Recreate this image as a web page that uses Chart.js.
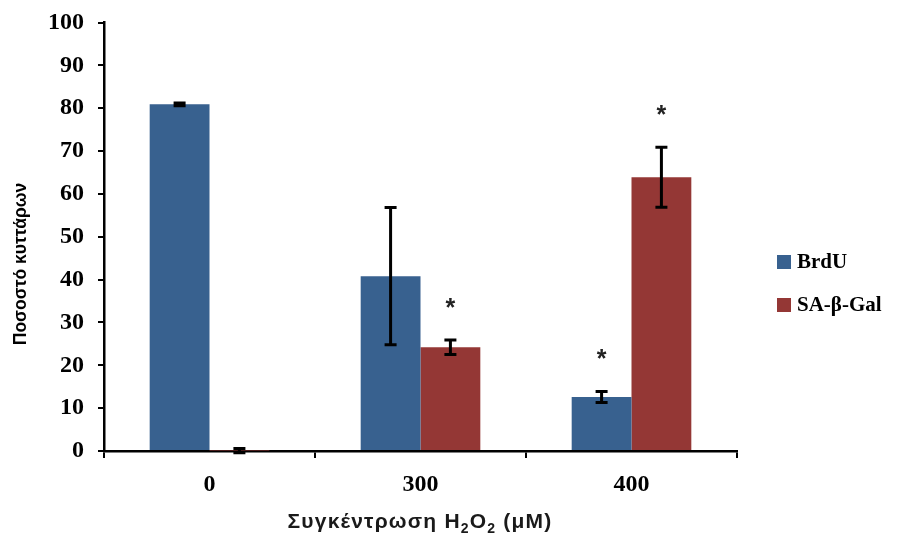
<!DOCTYPE html>
<html>
<head>
<meta charset="utf-8">
<script src="https://cdn.jsdelivr.net/npm/chart.js@4"></script>
<style>
  html, body { margin: 0; padding: 0; background: #fff; }
  #wrap { width: 907px; height: 537px; position: relative; }
</style>
</head>
<body>
<div id="wrap"><canvas id="chart"></canvas></div>
<script>
// concentrations of H2O2 (μM)
const categories = ["0", "300", "400"];
const seriesNames = ["BrdU", "SA-β-Gal"];

// percentage of cells, mean and error
const brduValues = [80.9, 40.8, 12.6];
const brduErrors = [0.3, 16.0, 1.3];
const galValues = [0.1, 24.2, 63.9];
const galErrors = [0.5, 1.7, 7.0];

// significance stars per bar
const brduStars = [false, false, true];
const galStars = [false, true, true];

const yTicks = [0, 10, 20, 30, 40, 50, 60, 70, 80, 90, 100];

const blue = "#38618f";
const red = "#943735";

const serif = "'Liberation Serif', 'Times New Roman', serif";
const sans = "'Liberation Sans', Arial, sans-serif";

// error bars + asterisks on top of the bars
const errorBars = {
    id: "errorBars",
    afterDatasetsDraw(chart) {
        const ctx = chart.ctx;
        const y = chart.scales.y;
        chart.data.datasets.forEach((ds, di) => {
            const meta = chart.getDatasetMeta(di);
            meta.data.forEach((bar, i) => {
                const v = ds.data[i];
                const e = ds.errors[i];
                const top = y.getPixelForValue(v + e);
                const bot = y.getPixelForValue(v - e);
                ctx.save();
                ctx.strokeStyle = "#000";
                ctx.lineWidth = 3;
                ctx.beginPath();
                ctx.moveTo(bar.x, top);
                ctx.lineTo(bar.x, bot);
                ctx.moveTo(bar.x - 6, top);
                ctx.lineTo(bar.x + 6, top);
                ctx.moveTo(bar.x - 6, bot);
                ctx.lineTo(bar.x + 6, bot);
                ctx.stroke();
                if (ds.stars[i]) {
                    ctx.fillStyle = "#222";
                    ctx.font = "bold 25px " + sans;
                    ctx.textAlign = "center";
                    ctx.textBaseline = "middle";
                    ctx.fillText("*", bar.x, top - 31);
                }
                ctx.restore();
            });
        });
    }
};

// legend box, axis titles
const extras = {
    id: "extras",
    afterDraw(chart) {
        const ctx = chart.ctx;
        ctx.save();

        // legend
        const rows = [262, 305];
        chart.data.datasets.forEach((ds, i) => {
            ctx.fillStyle = ds.backgroundColor;
            ctx.fillRect(777, rows[i] - 7, 14, 14);
            ctx.fillStyle = "#000";
            ctx.font = "bold 21px " + serif;
            ctx.textAlign = "left";
            ctx.textBaseline = "middle";
            ctx.fillText(ds.label, 797, rows[i] + 1);
        });

        // y title
        ctx.save();
        ctx.translate(21, 264);
        ctx.rotate(-Math.PI / 2);
        ctx.font = "bold 17.5px " + sans;
        ctx.textAlign = "center";
        ctx.textBaseline = "middle";
        ctx.fillStyle = "#000";
        ctx.fillText("Ποσοστό κυττάρων", 0, 0);
        ctx.restore();

        // x title with subscripts
        const parts = [
            ["Συγκέντρωση H", false],
            ["2", true],
            ["O", false],
            ["2", true],
            [" (μM)", false]
        ];
        const big = "bold 21px " + sans;
        const small = "bold 14px " + sans;
        ctx.letterSpacing = "1.2px";
        let total = 0;
        parts.forEach(p => {
            ctx.font = p[1] ? small : big;
            total += ctx.measureText(p[0]).width;
        });
        let x = 420 - total / 2;
        ctx.fillStyle = "#1a1a1a";
        ctx.textAlign = "left";
        ctx.textBaseline = "alphabetic";
        parts.forEach(p => {
            ctx.font = p[1] ? small : big;
            ctx.fillText(p[0], x, p[1] ? 533 : 528);
            x += ctx.measureText(p[0]).width;
        });
        ctx.restore();
    }
};

new Chart(document.getElementById("chart"), {
    type: "bar",
    data: {
        labels: categories,
        datasets: [
            {
                label: seriesNames[0],
                data: brduValues,
                errors: brduErrors,
                stars: brduStars,
                backgroundColor: blue
            },
            {
                label: seriesNames[1],
                data: galValues,
                errors: galErrors,
                stars: galStars,
                backgroundColor: red
            }
        ]
    },
    options: {
        responsive: true,
        maintainAspectRatio: false,
        animation: false,
        datasets: {
            bar: { categoryPercentage: 0.567, barPercentage: 1.0 }
        },
        layout: { padding: { top: 22.5, right: 170, left: 0, bottom: 0 } },
        plugins: {
            legend: { display: false },
            tooltip: { enabled: false }
        },
        scales: {
            x: {
                afterFit(scale) { scale.height = 86; },
                grid: {
                    offset: true,
                    drawOnChartArea: false,
                    drawTicks: true,
                    tickLength: 7,
                    color: "#000",
                    lineWidth: 2
                },
                border: { color: "#000", width: 2.5 },
                ticks: {
                    color: "#000",
                    padding: 12,
                    font: { family: serif, size: 24, weight: "bold" }
                }
            },
            y: {
                min: 0,
                max: 100,
                afterFit(scale) {
                    scale.width = 104;
                    // keep the plot top fixed by layout padding only
                    scale.paddingTop = 0;
                    scale.paddingBottom = 0;
                },
                afterBuildTicks(scale) {
                    scale.ticks = yTicks.map(v => ({ value: v }));
                },
                grid: {
                    drawOnChartArea: false,
                    drawTicks: true,
                    tickLength: 6,
                    color: "#000",
                    lineWidth: 2
                },
                border: { color: "#000", width: 2.5 },
                ticks: {
                    color: "#000",
                    padding: 14,
                    font: { family: serif, size: 24, weight: "bold", lineHeight: 1 }
                }
            }
        }
    },
    plugins: [errorBars, extras]
});
</script>
</body>
</html>
